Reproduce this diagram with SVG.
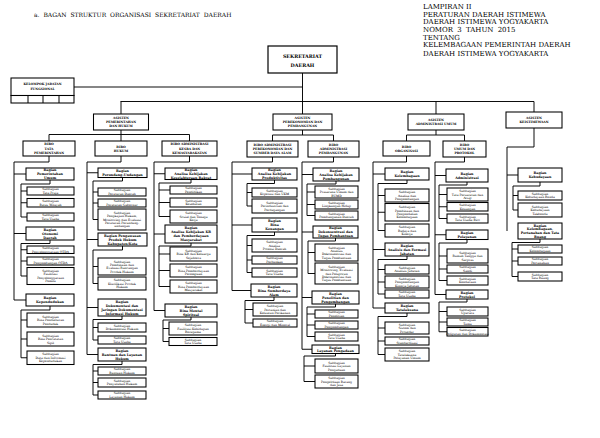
<svg xmlns="http://www.w3.org/2000/svg" width="600" height="438" viewBox="0 0 600 438">
<style>
.bx{fill:#fff;stroke:#000;stroke-width:1.05}
text{font-family:"DejaVu Serif","Liberation Serif",serif;text-anchor:middle;fill:#000}
.s{font-size:3.05px}
.g{font-size:3.3px;font-weight:bold}
.h{font-size:3.1px;font-weight:bold}
.hd{font-size:7px;text-anchor:start}
.cn path{fill:none;stroke:#000;stroke-width:0.95}
</style>
<rect width="600" height="438" fill="#fff"/>
<text x="34" y="17" style="font-size:6px;text-anchor:start;word-spacing:2px">a. BAGAN STRUKTUR ORGANISASI  SEKRETARIAT  DAERAH</text>
<g id="lampiran">
<text class="hd" x="423" y="8.5">LAMPIRAN II</text>
<text class="hd" x="423" y="16.8">PERATURAN DAERAH ISTIMEWA</text>
<text class="hd" x="423" y="24.2">DAERAH ISTIMEWA YOGYAKARTA</text>
<text class="hd" x="423" y="31.5" style="word-spacing:2px">NOMOR 3 TAHUN 2015</text>
<text class="hd" x="423" y="39.5">TENTANG</text>
<text class="hd" x="423" y="47.3">KELEMBAGAAN PEMERINTAH DAERAH</text>
<text class="hd" x="423" y="55.8">DAERAH ISTIMEWA YOGYAKARTA</text>
</g>
<g class="cn" id="connectors">
<path d="M302.5,73V114M74,87H302.5M120.5,101.5H534M121,101.5V114M436,101.5V114M534,101.5V112"/>
<path d="M121,130V134.5M49,141V134.5H189.5V141M121,134.5V141"/>
<path d="M302.5,130V135M272.5,141V135H333.5V141"/>
<path d="M436,130V135M406.5,141V135H464.5V141"/>
<path d="M534,128V147H507V231M507,175H518"/>
<path d="M49,156V162H14V300M14,174H26M14,233.5H26M14,300H26"/>
<path d="M50,180V184H21V217M21,191H27M21,202.75H27M21,217H27"/>
<path d="M50,240V243.5H21V276M21,249.75H27M21,261H27M21,276H27"/>
<path d="M50,306V310H21V357.75M21,320H27M21,339H27M21,357.75H27"/>
<path d="M121,156V162H87V354.5M87,172.75H98M87,239.5H98M87,307.5H98M87,354.5H98"/>
<path d="M122.5,177.5V181H93V219.5M93,192H98M93,203H98M93,219.5H98"/>
<path d="M122.5,246V250H93V283.5M93,266.5H98M93,283.5H98"/>
<path d="M122,316V319.5H93V340M93,327.5H98M93,340H98"/>
<path d="M122,361V364.5H93V395M93,371H98M93,382.5H98M93,395H98"/>
<path d="M189.5,156V162H154V310.5M154,173.75H165M154,234H165M154,310.5H165"/>
<path d="M191,179.5V183H159V216.5M159,190H170M159,202.5H170M159,216.5H170"/>
<path d="M191,243V246H159V286.5M159,254H170M159,270.5H170M159,286.5H170"/>
<path d="M191,317V320H163V341.5M163,328.5H169M163,341.5H169"/>
<path d="M272.5,157V162H232V290.5M232,174H252M232,225H252M232,290.5H251"/>
<path d="M274.5,180V183.5H247V206M247,192.5H252M247,206H252"/>
<path d="M274.5,232V235.5H247V272.5M247,245.5H252M247,260H252M247,272.5H252"/>
<path d="M274,297V300.5H245V323M245,309.5H253M245,323H253"/>
<path d="M333.5,157V162H302V349.25M302,174.5H313M302,232H313M302,297.5H312M302,349.25H312"/>
<path d="M336,181V184H307V215.5M307,192H315M307,204.5H315M307,215.5H315"/>
<path d="M335.5,238V241H308V273.5M308,252.5H315M308,273.5H315"/>
<path d="M335.5,304V307H307V336.5M307,314H315M307,325H315M307,336.5H315"/>
<path d="M335.5,353.5V356H304V381.5M304,366H315M304,381.5H315"/>
<path d="M406.5,156V162H373V308M373,174H385M373,249.5H385M373,308H385"/>
<path d="M407,180V183.5H378V230.5M378,195.5H385M378,212.25H385M378,230.5H385"/>
<path d="M407,256V259.5H378V294M378,269.5H385M378,282H385M378,294H385"/>
<path d="M407,313V316.5H378V354.5M378,328H385M378,341H385M378,354.5H385"/>
<path d="M464.5,157V162H435V294.5M435,175.5H446M435,234.75H446M435,294.5H446"/>
<path d="M467,182V185H439V218.5M439,194.5H447M439,206.75H447M439,218.5H447"/>
<path d="M467,239.5V243H439V280.5M439,256H447M439,269H447M439,280.5H447"/>
<path d="M467,299V302H439V331.75M439,311.5H447M439,322H447M439,331.75H447"/>
<path d="M540,182V186H513V210M513,195.5H518M513,210H518"/>
<path d="M540,239V242.5H512V276.5M512,249H518M512,261H518M512,276.5H518"/>
</g>
<g id="sekretariat"><rect class="bx" x="268" y="46" width="69" height="27" style="stroke-width:1.2"/><text style="font-size:4.8px;font-weight:bold"><tspan x="302.5" y="58.4">SEKRETARIAT</tspan><tspan x="302.5" y="66.7">DAERAH</tspan></text></g>
<g id="kelompok"><rect class="bx" x="11" y="78" width="63" height="17.5"/><rect class="bx" x="11" y="95.5" width="63" height="7.5"/><path d="M28,95.5V103M43,95.5V103M59,95.5V103" stroke="#000" stroke-width="1"/><text class="h"><tspan x="42.5" y="85.2">KELOMPOK JABATAN</tspan><tspan x="42.5" y="90.4">FUNGSIONAL</tspan></text></g>
<g id="asisten-pemerintahan"><rect class="bx" x="93.5" y="114" width="55" height="16"/><text class="h"><tspan x="121" y="119.1">ASISTEN</tspan><tspan x="121" y="123.1">PEMERINTAHAN</tspan><tspan x="121" y="127.1">DAN HUKUM</tspan></text></g>
<g id="asisten-perekonomian"><rect class="bx" x="273" y="114" width="59" height="16"/><text class="h"><tspan x="302.5" y="119.1">ASISTEN</tspan><tspan x="302.5" y="123.1">PEREKONOMIAN DAN</tspan><tspan x="302.5" y="127.1">PEMBANGUNAN</tspan></text></g>
<g id="asisten-administrasi"><rect class="bx" x="408" y="114" width="56" height="16"/><text class="h"><tspan x="436" y="121.1">ASISTEN</tspan><tspan x="436" y="125.1">ADMINISTRASI UMUM</tspan></text></g>
<g id="asisten-keistimewaan"><rect class="bx" x="506" y="112" width="56" height="16"/><text class="h"><tspan x="534" y="119.1">ASISTEN</tspan><tspan x="534" y="123.1">KEISTIMEWAAN</tspan></text></g>
<g id="biro-tapem"><rect class="bx" x="23" y="141" width="52" height="15"/><text class="h"><tspan x="49" y="145.4">BIRO</tspan><tspan x="49" y="149.6">TATA</tspan><tspan x="49" y="153.8">PEMERINTAHAN</tspan></text></g>
<g id="biro-hukum"><rect class="bx" x="95" y="141" width="52" height="15"/><text class="h"><tspan x="121" y="147.5">BIRO</tspan><tspan x="121" y="151.7">HUKUM</tspan></text></g>
<g id="biro-kesra"><rect class="bx" x="162" y="141" width="55" height="15"/><text class="h"><tspan x="189.5" y="145.4">BIRO ADMINISTRASI</tspan><tspan x="189.5" y="149.6">KESRA DAN</tspan><tspan x="189.5" y="153.8">KEMASYARAKATAN</tspan></text></g>
<g id="biro-perekonomian"><rect class="bx" x="247" y="141" width="51" height="16"/><text class="h"><tspan x="272.5" y="145.9">BIRO ADMINISTRASI</tspan><tspan x="272.5" y="150.1">PEREKONOMIAN DAN</tspan><tspan x="272.5" y="154.3">SUMBER DAYA ALAM</tspan></text></g>
<g id="biro-pembangunan"><rect class="bx" x="308" y="141" width="51" height="16"/><text class="h"><tspan x="333.5" y="145.9">BIRO</tspan><tspan x="333.5" y="150.1">ADMINISTRASI</tspan><tspan x="333.5" y="154.3">PEMBANGUNAN</tspan></text></g>
<g id="biro-organisasi"><rect class="bx" x="383" y="141" width="47" height="15"/><text class="h"><tspan x="406.5" y="147.5">BIRO</tspan><tspan x="406.5" y="151.7">ORGANISASI</tspan></text></g>
<g id="biro-umum"><rect class="bx" x="443" y="141" width="43" height="16"/><text class="h"><tspan x="464.5" y="145.9">BIRO</tspan><tspan x="464.5" y="150.1">UMUM DAN</tspan><tspan x="464.5" y="154.3">PROTOKOL</tspan></text></g>

<g id="bag-pemum"><rect class="bx" x="26" y="168" width="48" height="12"/><text class="g"><tspan x="50" y="171.3">Bagian</tspan><tspan x="50" y="175.2">Pemerintahan</tspan><tspan x="50" y="179.1">Umum</tspan></text></g>
<g id="sub-tatapraja"><rect class="bx" x="27" y="187" width="47" height="8"/><text class="s"><tspan x="50.5" y="190.4">Subbagian</tspan><tspan x="50.5" y="193.8">Tata Praja</tspan></text></g>
<g id="sub-bataswil"><rect class="bx" x="27" y="198.5" width="47" height="8.5"/><text class="s"><tspan x="50.5" y="202.15">Subbagian</tspan><tspan x="50.5" y="205.55">Batas Wilayah</tspan></text></g>
<g id="sub-tu-tapem"><rect class="bx" x="27" y="213" width="47" height="8"/><text class="s"><tspan x="50.5" y="216.4">Subbagian</tspan><tspan x="50.5" y="219.8">Tata Usaha</tspan></text></g>
<g id="bag-otda"><rect class="bx" x="26" y="227" width="48" height="13"/><text class="g"><tspan x="50" y="230.8">Bagian</tspan><tspan x="50" y="234.7">Otonomi</tspan><tspan x="50" y="238.6">Daerah</tspan></text></g>
<g id="sub-penyotda"><rect class="bx" x="27" y="246" width="47" height="7.5"/><text class="s"><tspan x="50.5" y="249.15">Subbagian</tspan><tspan x="50.5" y="252.55">Penyelenggaraan OTDA</tspan></text></g>
<g id="sub-pengotda"><rect class="bx" x="27" y="257" width="47" height="8"/><text class="s"><tspan x="50.5" y="260.4">Subbagian</tspan><tspan x="50.5" y="263.8">Pengembangan OTDA</tspan></text></g>
<g id="sub-pemilu"><rect class="bx" x="27" y="267.5" width="47" height="17"/><text class="s"><tspan x="50.5" y="272">Subbagian</tspan><tspan x="50.5" y="275.4">Fasilitasi</tspan><tspan x="50.5" y="278.8">Penyelenggaraan</tspan><tspan x="50.5" y="282.2">Pemilu</tspan></text></g>
<g id="bag-kependudukan"><rect class="bx" x="26" y="294" width="48" height="12"/><text class="g"><tspan x="50" y="299.25">Bagian</tspan><tspan x="50" y="303.15">Kependudukan</tspan></text></g>
<g id="sub-daftar"><rect class="bx" x="27" y="313" width="47" height="14"/><text class="s"><tspan x="50.5" y="317.7">Subbagian</tspan><tspan x="50.5" y="321.1">Bina Pendaftaran</tspan><tspan x="50.5" y="324.5">Penduduk</tspan></text></g>
<g id="sub-catat"><rect class="bx" x="27" y="332" width="47" height="14"/><text class="s"><tspan x="50.5" y="336.7">Subbagian</tspan><tspan x="50.5" y="340.1">Bina Pencatatan</tspan><tspan x="50.5" y="343.5">Sipil</tspan></text></g>
<g id="sub-datapddk"><rect class="bx" x="27" y="351" width="47" height="13.5"/><text class="s"><tspan x="50.5" y="355.45">Subbagian</tspan><tspan x="50.5" y="358.85">Data dan Informasi</tspan><tspan x="50.5" y="362.25">Kependudukan</tspan></text></g>

<g id="bag-perundangan"><rect class="bx" x="98" y="168" width="49" height="9.5"/><text class="g"><tspan x="122.5" y="172">Bagian</tspan><tspan x="122.5" y="175.9">Perundang-Undangan</tspan></text></g>
<g id="sub-perda"><rect class="bx" x="98" y="188" width="48" height="8"/><text class="s"><tspan x="122" y="191.4">Subbagian</tspan><tspan x="122" y="194.8">Peraturan Daerah</tspan></text></g>
<g id="sub-pergub"><rect class="bx" x="98" y="199" width="48" height="8"/><text class="s"><tspan x="122" y="202.4">Subbagian</tspan><tspan x="122" y="205.8">Peraturan Gubernur</tspan></text></g>
<g id="sub-kajian"><rect class="bx" x="98" y="209" width="48" height="21"/><text class="s"><tspan x="122" y="213.8">Subbagian</tspan><tspan x="122" y="217.2">Pengkajian Hukum,</tspan><tspan x="122" y="220.6">Monitoring dan Evaluasi</tspan><tspan x="122" y="224">Peraturan Perundang-</tspan><tspan x="122" y="227.4">undangan</tspan></text></g>
<g id="bag-pengawasan"><rect class="bx" x="98" y="233" width="49" height="13"/><text class="g"><tspan x="122.5" y="236.8">Bagian Pengawasan</tspan><tspan x="122.5" y="240.7">Produk Hukum</tspan><tspan x="122.5" y="244.6">Kabupaten/Kota</tspan></text></g>
<g id="sub-evaluasi"><rect class="bx" x="98" y="258" width="48" height="17"/><text class="s"><tspan x="122" y="262.5">Subbagian</tspan><tspan x="122" y="265.9">Pembinaan dan</tspan><tspan x="122" y="269.3">Evaluasi Rancangan</tspan><tspan x="122" y="272.7">Produk Hukum</tspan></text></g>
<g id="sub-klarifikasi"><rect class="bx" x="98" y="277" width="48" height="13"/><text class="s"><tspan x="122" y="281.2">Subbagian</tspan><tspan x="122" y="284.6">Klarifikasi Produk</tspan><tspan x="122" y="288">Hukum</tspan></text></g>
<g id="bag-dokumentasi"><rect class="bx" x="98" y="299" width="48" height="17"/><text class="g"><tspan x="122" y="302.85">Bagian</tspan><tspan x="122" y="306.75">Dokumentasi dan</tspan><tspan x="122" y="310.65">Jaringan Dokumentasi</tspan><tspan x="122" y="314.55">Informasi Hukum</tspan></text></g>
<g id="sub-dokhukum"><rect class="bx" x="98" y="323" width="48" height="9"/><text class="s"><tspan x="122" y="326.9">Subbagian</tspan><tspan x="122" y="330.3">Dokumentasi Hukum</tspan></text></g>
<g id="sub-tu-hukum"><rect class="bx" x="98" y="336" width="48" height="8"/><text class="s"><tspan x="122" y="339.4">Subbagian</tspan><tspan x="122" y="342.8">Tata Usaha</tspan></text></g>
<g id="bag-bantuan"><rect class="bx" x="98" y="348" width="48" height="13"/><text class="g"><tspan x="122" y="351.8">Bagian</tspan><tspan x="122" y="355.7">Bantuan dan Layanan</tspan><tspan x="122" y="359.6">Hukum</tspan></text></g>
<g id="sub-banhuk"><rect class="bx" x="98" y="367" width="48" height="8"/><text class="s"><tspan x="122" y="370.4">Subbagian</tspan><tspan x="122" y="373.8">Bantuan Hukum</tspan></text></g>
<g id="sub-luhkum"><rect class="bx" x="98" y="378" width="48" height="9"/><text class="s"><tspan x="122" y="381.9">Subbagian</tspan><tspan x="122" y="385.3">Penyuluhan Hukum</tspan></text></g>
<g id="sub-layhuk"><rect class="bx" x="98" y="391" width="48" height="8"/><text class="s"><tspan x="122" y="394.4">Subbagian</tspan><tspan x="122" y="397.8">Layanan Hukum</tspan></text></g>

<g id="bag-kesra"><rect class="bx" x="165" y="168" width="52" height="11.5"/><text class="g"><tspan x="191" y="171.05">Bagian</tspan><tspan x="191" y="174.95">Analisa Kebijakan</tspan><tspan x="191" y="178.85">Kesejahteraan Rakyat</tspan></text></g>
<g id="sub-pendidikan"><rect class="bx" x="170" y="186" width="47" height="8"/><text class="s"><tspan x="193.5" y="189.4">Subbagian</tspan><tspan x="193.5" y="192.8">Pendidikan</tspan></text></g>
<g id="sub-kesehatan"><rect class="bx" x="170" y="198" width="47" height="9"/><text class="s"><tspan x="193.5" y="201.9">Subbagian</tspan><tspan x="193.5" y="205.3">Kesehatan</tspan></text></g>
<g id="sub-sosial"><rect class="bx" x="170" y="210" width="47" height="13"/><text class="s"><tspan x="193.5" y="214.2">Subbagian</tspan><tspan x="193.5" y="217.6">Sosial dan Tenaga</tspan><tspan x="193.5" y="221">Kerja</tspan></text></g>
<g id="bag-kb"><rect class="bx" x="165" y="225" width="52" height="18"/><text class="g"><tspan x="191" y="229.35">Bagian</tspan><tspan x="191" y="233.25">Analisa Kebijakan KB</tspan><tspan x="191" y="237.15">dan Pemberdayaan</tspan><tspan x="191" y="241.05">Masyarakat</tspan></text></g>
<g id="sub-kb"><rect class="bx" x="170" y="247" width="47" height="14"/><text class="s"><tspan x="193.5" y="251.7">Subbagian</tspan><tspan x="193.5" y="255.1">Bina KB dan Keluarga</tspan><tspan x="193.5" y="258.5">Sejahtera</tspan></text></g>
<g id="sub-perempuan"><rect class="bx" x="170" y="264" width="47" height="13"/><text class="s"><tspan x="193.5" y="268.2">Subbagian</tspan><tspan x="193.5" y="271.6">Bina Pemberdayaan</tspan><tspan x="193.5" y="275">Perempuan</tspan></text></g>
<g id="sub-masyarakat"><rect class="bx" x="170" y="280" width="47" height="13"/><text class="s"><tspan x="193.5" y="284.2">Subbagian</tspan><tspan x="193.5" y="287.6">Bina Pemberdayaan</tspan><tspan x="193.5" y="291">Masyarakat</tspan></text></g>
<g id="bag-mental"><rect class="bx" x="165" y="304" width="52" height="13"/><text class="g"><tspan x="191" y="307.8">Bagian</tspan><tspan x="191" y="311.7">Bina Mental</tspan><tspan x="191" y="315.6">Spiritual</tspan></text></g>
<g id="sub-beragama"><rect class="bx" x="169" y="322" width="48" height="13"/><text class="s"><tspan x="193" y="326.2">Subbagian</tspan><tspan x="193" y="329.6">Fasilitasi Kehidupan</tspan><tspan x="193" y="333">Beragama</tspan></text></g>
<g id="sub-tu-kesra"><rect class="bx" x="169" y="337.5" width="48" height="8"/><text class="s"><tspan x="193" y="340.9">Subbagian</tspan><tspan x="193" y="344.3">Tata Usaha</tspan></text></g>

<g id="bag-produktivitas"><rect class="bx" x="252" y="168" width="45" height="12"/><text class="g"><tspan x="274.5" y="171.3">Bagian</tspan><tspan x="274.5" y="175.2">Analisa Kebijakan</tspan><tspan x="274.5" y="179.1">Produktivitas</tspan></text></g>
<g id="sub-koperasi"><rect class="bx" x="252" y="188" width="45" height="9"/><text class="s"><tspan x="274.5" y="191.9">Subbagian</tspan><tspan x="274.5" y="195.3">Koperasi dan UKM</tspan></text></g>
<g id="sub-industri"><rect class="bx" x="252" y="199" width="45" height="14"/><text class="s"><tspan x="274.5" y="203.7">Subbagian</tspan><tspan x="274.5" y="207.1">Perindustrian dan</tspan><tspan x="274.5" y="210.5">Perdagangan</tspan></text></g>
<g id="bag-keuangan"><rect class="bx" x="252" y="218" width="45" height="14"/><text class="g"><tspan x="274.5" y="222.3">Bagian</tspan><tspan x="274.5" y="226.2">Bina</tspan><tspan x="274.5" y="230.1">Keuangan</tspan></text></g>
<g id="sub-potensi"><rect class="bx" x="252" y="239" width="45" height="13"/><text class="s"><tspan x="274.5" y="243.2">Subbagian</tspan><tspan x="274.5" y="246.6">Analisa</tspan><tspan x="274.5" y="250">Potensi Daerah</tspan></text></g>
<g id="sub-perbankan"><rect class="bx" x="252" y="256" width="45" height="8"/><text class="s"><tspan x="274.5" y="259.4">Subbagian</tspan><tspan x="274.5" y="262.8">Perbankan</tspan></text></g>
<g id="sub-tu-ekon"><rect class="bx" x="252" y="268" width="45" height="9"/><text class="s"><tspan x="274.5" y="271.9">Subbagian</tspan><tspan x="274.5" y="275.3">Tata Usaha</tspan></text></g>
<g id="bag-sda"><rect class="bx" x="251" y="284" width="46" height="13"/><text class="g"><tspan x="274" y="287.8">Bagian</tspan><tspan x="274" y="291.7">Bina Sumberdaya</tspan><tspan x="274" y="295.6">Alam</tspan></text></g>
<g id="sub-pertanian"><rect class="bx" x="253" y="303" width="44" height="13"/><text class="s"><tspan x="275" y="307.2">Subbagian</tspan><tspan x="275" y="310.6">Pertanian dan</tspan><tspan x="275" y="314">Kelautan Perikanan</tspan></text></g>
<g id="sub-energi"><rect class="bx" x="253" y="319" width="44" height="8"/><text class="s"><tspan x="275" y="322.4">Subbagian</tspan><tspan x="275" y="325.8">Energi dan Mineral</tspan></text></g>

<g id="bag-akp"><rect class="bx" x="313" y="168" width="46" height="13"/><text class="g"><tspan x="336" y="171.8">Bagian</tspan><tspan x="336" y="175.7">Analisa Kebijakan</tspan><tspan x="336" y="179.6">Pembangunan</tspan></text></g>
<g id="sub-prasarana"><rect class="bx" x="315" y="186" width="43" height="12"/><text class="s"><tspan x="336.5" y="189.7">Subbagian</tspan><tspan x="336.5" y="193.1">Prasarana Umum dan</tspan><tspan x="336.5" y="196.5">BUMD</tspan></text></g>
<g id="sub-lh"><rect class="bx" x="315" y="200" width="43" height="9"/><text class="s"><tspan x="336.5" y="203.9">Subbagian</tspan><tspan x="336.5" y="207.3">Lingkungan Hidup</tspan></text></g>
<g id="sub-pembdaerah"><rect class="bx" x="315" y="211" width="43" height="9"/><text class="s"><tspan x="336.5" y="214.9">Subbagian</tspan><tspan x="336.5" y="218.3">Pembangunan Daerah</tspan></text></g>
<g id="bag-dekon"><rect class="bx" x="313" y="226" width="45" height="12"/><text class="g"><tspan x="335.5" y="229.3">Bagian</tspan><tspan x="335.5" y="233.2">Dekonsentrasi dan</tspan><tspan x="335.5" y="237.1">Tugas Pembantuan</tspan></text></g>
<g id="sub-analisisdekon"><rect class="bx" x="315" y="244" width="43" height="17"/><text class="s"><tspan x="336.5" y="248.5">Subbagian</tspan><tspan x="336.5" y="251.9">Analisis</tspan><tspan x="336.5" y="255.3">Dekonsentrasi dan</tspan><tspan x="336.5" y="258.7">Tugas Pembantuan</tspan></text></g>
<g id="sub-monev"><rect class="bx" x="315" y="263" width="43" height="21"/><text class="s"><tspan x="336.5" y="267.8">Subbagian</tspan><tspan x="336.5" y="271.2">Monitoring, Evaluasi</tspan><tspan x="336.5" y="274.6">dan Pelaporan</tspan><tspan x="336.5" y="278">Dekonsentrasi dan</tspan><tspan x="336.5" y="281.4">Tugas Pembantuan</tspan></text></g>
<g id="bag-litbang"><rect class="bx" x="312" y="291" width="47" height="13"/><text class="g"><tspan x="335.5" y="294.8">Bagian</tspan><tspan x="335.5" y="298.7">Penelitian dan</tspan><tspan x="335.5" y="302.6">Pengembangan</tspan></text></g>
<g id="sub-penelitian"><rect class="bx" x="315" y="310" width="43" height="8"/><text class="s"><tspan x="336.5" y="313.4">Subbagian</tspan><tspan x="336.5" y="316.8">Penelitian</tspan></text></g>
<g id="sub-pengembangan"><rect class="bx" x="315" y="321" width="43" height="8"/><text class="s"><tspan x="336.5" y="324.4">Subbagian</tspan><tspan x="336.5" y="327.8">Pengembangan</tspan></text></g>
<g id="sub-tu-pemb"><rect class="bx" x="315" y="332" width="43" height="9"/><text class="s"><tspan x="336.5" y="335.9">Subbagian</tspan><tspan x="336.5" y="339.3">Tata Usaha</tspan></text></g>
<g id="bag-pengadaan"><rect class="bx" x="312" y="345" width="47" height="8.5"/><text class="g"><tspan x="335.5" y="348.5">Bagian</tspan><tspan x="335.5" y="352.4">Layanan Pengadaan</tspan></text></g>
<g id="sub-faslay"><rect class="bx" x="315" y="359" width="43" height="14"/><text class="s"><tspan x="336.5" y="363.7">Subbagian</tspan><tspan x="336.5" y="367.1">Fasilitasi Layanan</tspan><tspan x="336.5" y="370.5">Pengadaan</tspan></text></g>
<g id="sub-barjas"><rect class="bx" x="315" y="375" width="43" height="13"/><text class="s"><tspan x="336.5" y="379.2">Subbagian</tspan><tspan x="336.5" y="382.6">Pengelolaan Barang</tspan><tspan x="336.5" y="386">dan Jasa</tspan></text></g>

<g id="bag-kelembagaan"><rect class="bx" x="385" y="168" width="44" height="12"/><text class="g"><tspan x="407" y="173.25">Bagian</tspan><tspan x="407" y="177.15">Kelembagaan</tspan></text></g>
<g id="sub-analisakel"><rect class="bx" x="385" y="189" width="44" height="13"/><text class="s"><tspan x="407" y="193.2">Subbagian</tspan><tspan x="407" y="196.6">Analisa dan</tspan><tspan x="407" y="200">Pengembangan</tspan></text></g>
<g id="sub-binakel"><rect class="bx" x="385" y="203.5" width="44" height="17.5"/><text class="s"><tspan x="407" y="208.25">Subbagian</tspan><tspan x="407" y="211.65">Pembinaan dan</tspan><tspan x="407" y="215.05">Pengendalian</tspan><tspan x="407" y="218.45">Kelembagaan</tspan></text></g>
<g id="sub-budaya"><rect class="bx" x="385" y="224" width="44" height="13"/><text class="s"><tspan x="407" y="228.2">Subbagian</tspan><tspan x="407" y="231.6">Budaya dan</tspan><tspan x="407" y="235">Kinerja</tspan></text></g>
<g id="bag-formasi"><rect class="bx" x="385" y="243" width="44" height="13"/><text class="g"><tspan x="407" y="246.8">Bagian</tspan><tspan x="407" y="250.7">Analisis dan Formasi</tspan><tspan x="407" y="254.6">Jabatan</tspan></text></g>
<g id="sub-anjab"><rect class="bx" x="385" y="265" width="44" height="9"/><text class="s"><tspan x="407" y="268.9">Subbagian</tspan><tspan x="407" y="272.3">Analisis Jabatan</tspan></text></g>
<g id="sub-kinjab"><rect class="bx" x="385" y="276" width="44" height="12"/><text class="s"><tspan x="407" y="279.7">Subbagian</tspan><tspan x="407" y="283.1">Pengembangan</tspan><tspan x="407" y="286.5">Kinerja Jabatan</tspan></text></g>
<g id="sub-tu-org"><rect class="bx" x="385" y="290" width="44" height="8"/><text class="s"><tspan x="407" y="293.4">Subbagian</tspan><tspan x="407" y="296.8">Tata Usaha</tspan></text></g>
<g id="bag-tatalaksana"><rect class="bx" x="385" y="303" width="44" height="10"/><text class="g"><tspan x="407" y="307.25">Bagian</tspan><tspan x="407" y="311.15">Tatalaksana</tspan></text></g>
<g id="sub-sisdur"><rect class="bx" x="385" y="322" width="44" height="12"/><text class="s"><tspan x="407" y="325.7">Subbagian</tspan><tspan x="407" y="329.1">Sistem dan</tspan><tspan x="407" y="332.5">Prosedur</tspan></text></g>
<g id="sub-standar"><rect class="bx" x="385" y="337" width="44" height="8"/><text class="s"><tspan x="407" y="340.4">Subbagian</tspan><tspan x="407" y="343.8">Standardisasi</tspan></text></g>
<g id="sub-yanum"><rect class="bx" x="385" y="348" width="44" height="13"/><text class="s"><tspan x="407" y="352.2">Subbagian</tspan><tspan x="407" y="355.6">Tatalaksana</tspan><tspan x="407" y="359">Pelayanan Umum</tspan></text></g>

<g id="bag-administrasi"><rect class="bx" x="446" y="169" width="42" height="13"/><text class="g"><tspan x="467" y="174.75">Bagian</tspan><tspan x="467" y="178.65">Administrasi</tspan></text></g>
<g id="sub-arsip"><rect class="bx" x="447" y="188" width="41" height="13"/><text class="s"><tspan x="467.5" y="192.2">Subbagian</tspan><tspan x="467.5" y="195.6">Tata Persuratan dan</tspan><tspan x="467.5" y="199">Arsip</tspan></text></g>
<g id="sub-keuangan"><rect class="bx" x="447" y="202.5" width="41" height="8.5"/><text class="s"><tspan x="467.5" y="206.15">Subbagian</tspan><tspan x="467.5" y="209.55">Keuangan</tspan></text></g>
<g id="sub-tu-biro"><rect class="bx" x="447" y="214" width="41" height="9"/><text class="s"><tspan x="467.5" y="217.9">Subbagian</tspan><tspan x="467.5" y="221.3">Tata Usaha Biro</tspan></text></g>
<g id="bag-pelayanan"><rect class="bx" x="446" y="230" width="42" height="9.5"/><text class="g"><tspan x="467" y="234">Bagian</tspan><tspan x="467" y="237.9">Pelayanan</tspan></text></g>
<g id="sub-rt"><rect class="bx" x="447" y="249" width="41" height="14"/><text class="s"><tspan x="467.5" y="253.7">Subbagian</tspan><tspan x="467.5" y="257.1">Rumah Tangga dan</tspan><tspan x="467.5" y="260.5">Sarpras</tspan></text></g>
<g id="sub-sandi"><rect class="bx" x="447" y="265" width="41" height="8"/><text class="s"><tspan x="467.5" y="268.4">Subbagian</tspan><tspan x="467.5" y="271.8">Sandi</tspan></text></g>
<g id="sub-kendaraan"><rect class="bx" x="447" y="276" width="41" height="9"/><text class="s"><tspan x="467.5" y="279.9">Subbagian</tspan><tspan x="467.5" y="283.3">Kendaraan</tspan></text></g>
<g id="bag-protokol"><rect class="bx" x="446" y="290" width="42" height="9"/><text class="g"><tspan x="467" y="293.75">Bagian</tspan><tspan x="467" y="297.65">Protokol</tspan></text></g>
<g id="sub-upacara"><rect class="bx" x="447" y="307" width="41" height="9"/><text class="s"><tspan x="467.5" y="310.9">Subbagian</tspan><tspan x="467.5" y="314.3">Upacara</tspan></text></g>
<g id="sub-tamu"><rect class="bx" x="447" y="318" width="41" height="8"/><text class="s"><tspan x="467.5" y="321.4">Subbagian</tspan><tspan x="467.5" y="324.8">Tamu</tspan></text></g>
<g id="sub-liputan"><rect class="bx" x="447" y="327.5" width="41" height="8.5"/><text class="s"><tspan x="467.5" y="331.15">Subbagian</tspan><tspan x="467.5" y="334.55">Peliputan dan Dokumentasi</tspan></text></g>

<g id="bag-kebudayaan"><rect class="bx" x="518" y="168" width="44" height="14"/><text class="g"><tspan x="540" y="174.25">Bagian</tspan><tspan x="540" y="178.15">Kebudayaan</tspan></text></g>
<g id="sub-benda"><rect class="bx" x="518" y="191" width="44" height="9"/><text class="s"><tspan x="540" y="194.9">Subbagian</tspan><tspan x="540" y="198.3">Kebudayaan Benda</tspan></text></g>
<g id="sub-takbenda"><rect class="bx" x="518" y="203" width="44" height="14"/><text class="s"><tspan x="540" y="207.7">Subbagian</tspan><tspan x="540" y="211.1">Kebudayaan</tspan><tspan x="540" y="214.5">Takbenda</tspan></text></g>
<g id="bag-pertanahan"><rect class="bx" x="518" y="223" width="44" height="16"/><text class="g"><tspan x="540" y="226.65">Bagian</tspan><tspan x="540" y="230.35">Kelembagaan,</tspan><tspan x="540" y="234.05">Pertanahan dan Tata</tspan><tspan x="540" y="237.75">Ruang</tspan></text></g>
<g id="sub-kelembagaan-k"><rect class="bx" x="518" y="245" width="44" height="8"/><text class="s"><tspan x="540" y="248.4">Subbagian</tspan><tspan x="540" y="251.8">Kelembagaan</tspan></text></g>
<g id="sub-pertanahan"><rect class="bx" x="518" y="257" width="44" height="8"/><text class="s"><tspan x="540" y="260.4">Subbagian</tspan><tspan x="540" y="263.8">Pertanahan</tspan></text></g>
<g id="sub-tataruang"><rect class="bx" x="518" y="272" width="44" height="9"/><text class="s"><tspan x="540" y="275.9">Subbagian</tspan><tspan x="540" y="279.3">Tata Ruang</tspan></text></g>
</svg>
